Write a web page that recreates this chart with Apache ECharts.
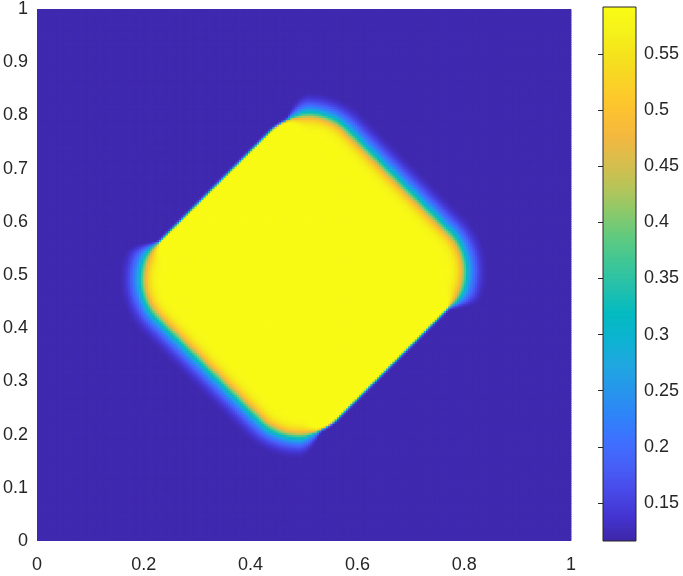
<!DOCTYPE html>
<html>
<head>
<meta charset="utf-8">
<script src="https://cdn.jsdelivr.net/npm/echarts@6/dist/echarts.min.js"></script>
<style>
  html, body { margin: 0; padding: 0; background: #fff; }
  #chart { width: 683px; height: 576px; }
</style>
</head>
<body>
<div id="chart"></div>
<script>
// values
const xTicks = [0, 0.2, 0.4, 0.6, 0.8, 1]
const yTicks = [0, 0.1, 0.2, 0.3, 0.4, 0.5, 0.6, 0.7, 0.8, 0.9, 1]
const colorTicks = [0.15, 0.2, 0.25, 0.3, 0.35, 0.4, 0.45, 0.5, 0.55]
const colorRange = [0.1161, 0.5919]

// level outside and inside the diamond
const backgroundLevel = 0.12
const plateauLevel = 0.59

// profile across the soft edges: distance outward from the edge -> value
const edgeDistance = [-0.034, -0.023, -0.014, -0.007, -0.002, 0.003, 0.008, 0.014, 0.021, 0.029, 0.037, 0.046]
const edgeValue = [0.590, 0.582, 0.558, 0.518, 0.465, 0.400, 0.330, 0.262, 0.203, 0.160, 0.134, 0.120]

// rounded diamond (in diagonal coords), centre (0.5, 0.5)
const halfSoft = 0.245 // soft edges: upper-right / lower-left
const halfSharp = 0.2348 // sharp edges: upper-left / lower-right
const cornerRadius = 0.1
const softAngle = 35 // direction of the softest edge, degrees
const sharpScale = 0.11 // sharp edges are this much narrower

const gridCells = 240
const colorbarCells = 240

const parula = [
  "#3e26a8", "#4435d2", "#484ae9", "#4760f8", "#3e71ff", "#2d85f8",
  "#2797eb", "#1fa8df", "#0bb3d0", "#04bbc0", "#24c0ab", "#40c796",
  "#61ca7f", "#8ec969", "#bac458", "#dbbd4c", "#f5b83f", "#fdc32f",
  "#fad127", "#f5e11d", "#f5f11a", "#f9fb15",
]

function lookupEdge(d) {
  if (d <= edgeDistance[0]) return plateauLevel
  const n = edgeDistance.length
  if (d >= edgeDistance[n - 1]) return backgroundLevel
  for (let i = 1; i < n; i++) {
    if (d <= edgeDistance[i]) {
      const t = (d - edgeDistance[i - 1]) / (edgeDistance[i] - edgeDistance[i - 1])
      return edgeValue[i - 1] + t * (edgeValue[i] - edgeValue[i - 1])
    }
  }
  return backgroundLevel
}

function smoothstep(a, b, x) {
  const t = Math.min(1, Math.max(0, (x - a) / (b - a)))
  return t * t * (3 - 2 * t)
}

function fieldAt(x, y) {
  const s2 = Math.SQRT2
  const u = (x - 0.5 + (y - 0.5)) / s2
  const v = (y - 0.5 - (x - 0.5)) / s2
  const qx = Math.abs(u) - (halfSoft - cornerRadius)
  const qy = Math.abs(v) - (halfSharp - cornerRadius)
  let d, nu, nv
  if (qx > 0 && qy > 0) {
    const L = Math.hypot(qx, qy)
    d = L - cornerRadius
    nu = Math.sign(u) * qx / L
    nv = Math.sign(v) * qy / L
  } else if (qx > qy) {
    d = qx - cornerRadius
    nu = Math.sign(u) || 1
    nv = 0
  } else {
    d = qy - cornerRadius
    nu = 0
    nv = Math.sign(v) || 1
  }
  const nx = (nu - nv) / s2
  const ny = (nu + nv) / s2
  const theta = Math.atan2(ny, nx) - softAngle * Math.PI / 180
  const f = Math.abs(Math.cos(theta))
  const scale = sharpScale + (1 - sharpScale) * smoothstep(0.17, 0.6, f)
  return lookupEdge(d / scale)
}

const cellSize = 1 / gridCells
const fieldData = []
for (let i = 0; i < gridCells; i++) {
  for (let j = 0; j < gridCells; j++) {
    const x = (i + 0.5) * cellSize
    const y = (j + 0.5) * cellSize
    fieldData.push([x, y, fieldAt(x, y)])
  }
}

const barStep = (colorRange[1] - colorRange[0]) / colorbarCells
const barData = Array.from({ length: colorbarCells }, (_, k) => {
  const lv = colorRange[0] + (k + 0.5) * barStep
  return [0.5, lv, lv]
})

// cells drawn a touch larger so neighbours overlap (no hairline seams)
function cellRenderer(dx, dy) {
  return (params, api) => {
    const c = api.coord([api.value(0), api.value(1)])
    const s = api.size([dx, dy], [api.value(0), api.value(1)])
    return {
      type: "rect",
      shape: { x: c[0] - s[0] / 2 - 0.4, y: c[1] - s[1] / 2 - 0.4, width: s[0] + 0.8, height: s[1] + 0.8 },
      style: { fill: api.visual("color") },
    }
  }
}

const textColor = "#262626"
const labelFont = { color: textColor, fontSize: 18, fontFamily: "Liberation Sans, Arial, sans-serif" }
const isTick = (ticks, v) => ticks.some((t) => Math.abs(t - v) < 1e-6)

const chart = echarts.init(document.getElementById("chart"))

const option = {
  animation: false,
  grid: [
    { left: 36, top: 7, width: 535, height: 534 },
    { left: 603, top: 7, width: 33, height: 534, show: true, borderColor: textColor, borderWidth: 1, backgroundColor: "transparent", z: 5 },
  ],
  xAxis: [
    {
      type: "value", gridIndex: 0, min: 0, max: 1, interval: 0.2,
      axisLine: { show: false }, axisTick: { show: false }, splitLine: { show: false },
      axisLabel: { ...labelFont, margin: 15, formatter: (v) => (isTick(xTicks, v) ? String(+v.toFixed(2)) : "") },
    },
    { type: "value", gridIndex: 1, min: 0, max: 1, show: false },
  ],
  yAxis: [
    {
      type: "value", gridIndex: 0, min: 0, max: 1, interval: 0.1,
      axisLine: { show: false }, axisTick: { show: false }, splitLine: { show: false },
      axisLabel: { ...labelFont, margin: 9, formatter: (v) => (isTick(yTicks, v) ? String(+v.toFixed(2)) : "") },
    },
    {
      type: "value", gridIndex: 1, min: colorRange[0], max: colorRange[1], splitNumber: 10, position: "right",
      axisLine: { show: false }, splitLine: { show: false },
      axisTick: { show: true, inside: true, length: 5, lineStyle: { color: textColor, width: 1 }, customValues: colorTicks },
      axisLabel: {
        ...labelFont, margin: 8, customValues: colorTicks,
        formatter: (v) => (isTick(colorTicks, v) ? String(+v.toFixed(2)) : ""),
      },
      z: 6,
    },
  ],
  visualMap: {
    type: "continuous",
    show: false,
    min: colorRange[0],
    max: colorRange[1],
    seriesIndex: [0, 1],
    dimension: 2,
    inRange: { color: parula },
  },
  series: [
    {
      type: "custom", xAxisIndex: 0, yAxisIndex: 0, data: fieldData,
      renderItem: cellRenderer(cellSize, cellSize), clip: true, progressive: 0, silent: true,
    },
    {
      type: "custom", xAxisIndex: 1, yAxisIndex: 1, data: barData,
      renderItem: cellRenderer(1, barStep), clip: true, progressive: 0, silent: true,
    },
  ],
}

chart.setOption(option)
</script>
</body>
</html>
